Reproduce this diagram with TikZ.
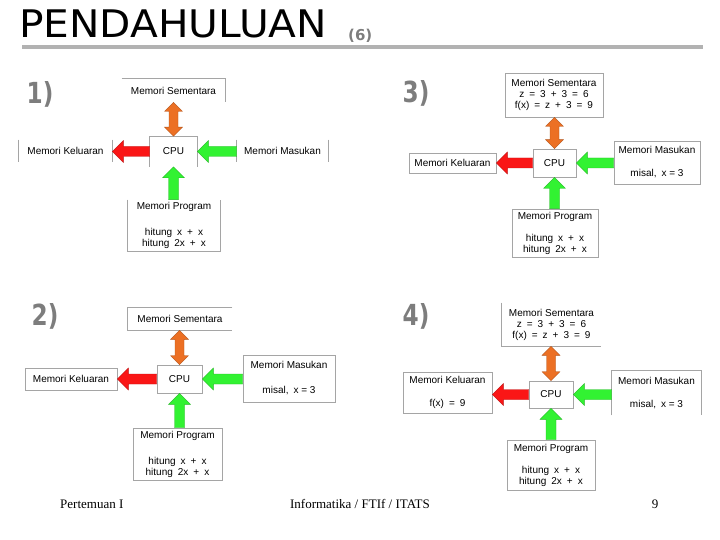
\documentclass[tikz,border=0pt]{standalone}
\usepackage{fontspec}
\setmainfont{Liberation Serif}
\newfontfamily\kotakfont{Liberation Sans}
\newfontfamily\judulfont{DejaVu Sans}
\usetikzlibrary{
    calc,
    positioning,
}
\definecolor{garis}{RGB}{165,165,165}
\definecolor{rule}{RGB}{178,178,178}
\definecolor{nomorgray}{RGB}{125,125,125}
\definecolor{oranye}{RGB}{236,112,36}
\definecolor{merah}{RGB}{250,22,22}
\definecolor{hijau}{RGB}{50,242,50}
\tikzstyle{memori}=[draw=garis,line width=.6pt,rectangle,inner sep=0pt,align=center,font=\kotakfont\fontsize{10}{11}\selectfont]
\tikzstyle{bare}=[memori,draw=none]
\tikzstyle{tepi}=[draw=garis,line width=.6pt]
\tikzstyle{nomor}=[font=\judulfont\bfseries\fontsize{29}{29}\selectfont,text=nomorgray,inner sep=0pt]
\tikzset{
    >=latex
}
\newcommand{\jk}{\enspace}
% single block arrow: colour, tail, tip
\newcommand{\Panah}[3]{%
    \coordinate (pA) at (#2);
    \coordinate (pB) at (#3);
    \coordinate (pN) at ($(pB)!11pt!(pA)$);
    \filldraw[fill=#1,draw=#1!75!black,line width=.4pt]
        ($(pA)!5pt!90:(pB)$) -- ($(pN)!5pt!90:(pB)$) -- ($(pN)!11pt!90:(pB)$) -- (pB)
        -- ($(pN)!11pt!-90:(pB)$) -- ($(pN)!5pt!-90:(pB)$) -- ($(pA)!5pt!-90:(pB)$) -- cycle;
}
% double block arrow: colour, end, end
\newcommand{\PanahDua}[3]{%
    \coordinate (pA) at (#2);
    \coordinate (pB) at (#3);
    \coordinate (pN) at ($(pB)!9pt!(pA)$);
    \coordinate (pM) at ($(pA)!9pt!(pB)$);
    \filldraw[fill=#1,draw=#1!75!black,line width=.4pt]
        (pA) -- ($(pM)!9pt!90:(pB)$) -- ($(pM)!4.5pt!90:(pB)$) -- ($(pN)!4.5pt!90:(pB)$)
        -- ($(pN)!9pt!90:(pB)$) -- (pB) -- ($(pN)!9pt!-90:(pB)$) -- ($(pN)!4.5pt!-90:(pB)$)
        -- ($(pM)!4.5pt!-90:(pB)$) -- ($(pM)!9pt!-90:(pB)$) -- cycle;
}

\begin{document}
\begin{tikzpicture}[x=1pt,y=-1pt]
    \useasboundingbox (0,0) rectangle (720,540);
    % Title
    \node[anchor=base west,inner sep=0pt,font=\judulfont\fontsize{38}{38}\selectfont] (judul) at (19,38) {\scalebox{1.07}[1]{PENDAHULUAN}};
    \node[anchor=base west,inner sep=0pt,font=\judulfont\bfseries\fontsize{15}{15}\selectfont,text=nomorgray] (bagian) at (348,41) {(6)};
    \coordinate (rule west) at (22,47.5);
    \coordinate (rule east) at (703,47.5);
    \draw[rule,line width=4pt] (rule west) -- (rule east);

    \node[nomor] (n1) at (40,94) {\scalebox{.8}[1]{1)}};
    \node[nomor] (n2) at (45,316) {\scalebox{.8}[1]{2)}};
    \node[nomor] (n3) at (416,93) {\scalebox{.8}[1]{3)}};
    \node[nomor] (n4) at (416,316) {\scalebox{.8}[1]{4)}};

    % 1)
    \node[bare,minimum width=103pt,minimum height=23pt] (ms1) at (173.5,90.5) {Memori Sementara};
    \node[bare,minimum width=47pt,minimum height=30pt] (cpu1) at (173.5,151.5) {CPU};
    \node[bare,minimum width=93pt,minimum height=22pt] (mk1) at (65.5,151) {Memori Keluaran};
    \node[bare,minimum width=91pt,minimum height=22pt] (mm1) at (282.5,151) {Memori Masukan};
    \node[bare,minimum width=92pt,minimum height=51pt] (mp1) at (174,225.5)
        {Memori Program\\[15pt] hitung\jk x\jk+\jk x\\ hitung\jk 2x\jk+\jk x};
    \draw[tepi] (ms1.north west) -- (ms1.north east) -- (ms1.south east);
    \draw[tepi] (cpu1.south west) -- (cpu1.north west) -- (cpu1.north east) -- (cpu1.south east);
    \draw[tepi] (mk1.north west) -- (mk1.south west) (mk1.north east) -- (mk1.south east);
    \draw[tepi] (mm1.north west) -- (mm1.south west) (mm1.north east) -- (mm1.south east);
    \draw[tepi] (mp1.north west) -- (mp1.south west) -- (mp1.south east) -- (mp1.north east);
    \PanahDua{oranye}{ms1.south -| cpu1.north}{cpu1.north}
    \Panah{merah}{cpu1.west}{mk1.east |- cpu1.west}
    \Panah{hijau}{mm1.west |- cpu1.east}{cpu1.east}
    \Panah{hijau}{mp1.north -| cpu1.south}{cpu1.south}

    % 2)
    \node[bare,minimum width=104pt,minimum height=22pt] (ms2) at (180,319) {Memori Sementara};
    \node[memori,minimum width=45pt,minimum height=28pt] (cpu2) at (179.5,379) {CPU};
    \node[memori,minimum width=92pt,minimum height=22pt] (mk2) at (71,379) {Memori Keluaran};
    \node[memori,minimum width=92pt,minimum height=47pt] (mm2) at (289,378.5)
        {Memori Masukan\\[14pt] misal,\jk x = 3};
    \node[memori,minimum width=89pt,minimum height=52pt] (mp2) at (177.5,454)
        {Memori Program\\[15pt] hitung\jk x\jk+\jk x\\ hitung\jk 2x\jk+\jk x};
    \draw[tepi] (ms2.north east) -- (ms2.north west) -- (ms2.south west) -- (ms2.south east);
    \PanahDua{oranye}{ms2.south -| cpu2.north}{cpu2.north}
    \Panah{merah}{cpu2.west}{mk2.east |- cpu2.west}
    \Panah{hijau}{mm2.west |- cpu2.east}{cpu2.east}
    \Panah{hijau}{mp2.north -| cpu2.south}{cpu2.south}

    % 3)
    \node[memori,minimum width=98pt,minimum height=44pt] (ms3) at (554,95)
        {Memori Sementara\\ z\jk=\jk3\jk+\jk3\jk=\jk6\\ f(x)\jk=\jk z\jk+\jk3\jk=\jk9};
    \node[memori,minimum width=43pt,minimum height=28pt] (cpu3) at (554.5,163) {CPU};
    \node[memori,minimum width=87pt,minimum height=20pt] (mk3) at (452.5,163) {Memori Keluaran};
    \node[memori,minimum width=86pt,minimum height=43pt] (mm3) at (657,162.5)
        {Memori Masukan\\[12pt] misal,\jk x = 3};
    \node[memori,minimum width=86pt,minimum height=48pt] (mp3) at (555,233)
        {Memori Program\\[11pt] hitung\jk x\jk+\jk x\\ hitung\jk 2x\jk+\jk x};
    \PanahDua{oranye}{ms3.south -| cpu3.north}{cpu3.north}
    \Panah{merah}{cpu3.west}{mk3.east |- cpu3.west}
    \Panah{hijau}{mm3.west |- cpu3.east}{cpu3.east}
    \Panah{hijau}{mp3.north -| cpu3.south}{cpu3.south}

    % 4)
    \node[bare,minimum width=99pt,minimum height=43pt] (ms4) at (551.5,324.5)
        {Memori Sementara\\ z\jk=\jk3\jk+\jk3\jk=\jk6\\ f(x)\jk=\jk z\jk+\jk3\jk=\jk9};
    \node[memori,minimum width=44pt,minimum height=27pt] (cpu4) at (551,394.5) {CPU};
    \node[memori,minimum width=89pt,minimum height=41pt] (mk4) at (447.5,392.5)
        {Memori Keluaran\\[12pt] f(x)\jk=\jk9};
    \node[bare,minimum width=89pt,minimum height=44pt] (mm4) at (656.5,393)
        {Memori Masukan\\[12pt] misal,\jk x = 3};
    \node[memori,minimum width=88pt,minimum height=50pt] (mp4) at (551,465)
        {Memori Program\\[11pt] hitung\jk x\jk+\jk x\\ hitung\jk 2x\jk+\jk x};
    \draw[tepi] (ms4.north west) -- (ms4.south west) -- (ms4.south east);
    \draw[tepi] (mm4.south west) -- (mm4.north west) -- (mm4.north east) -- (mm4.south east);
    \PanahDua{oranye}{ms4.south -| cpu4.north}{cpu4.north}
    \Panah{merah}{cpu4.west}{mk4.east |- cpu4.west}
    \Panah{hijau}{mm4.west |- cpu4.east}{cpu4.east}
    \Panah{hijau}{mp4.north -| cpu4.south}{cpu4.south}

    % Footer
    \node[anchor=base west,inner sep=0pt,font=\fontsize{13}{13}\selectfont] (pertemuan) at (60,508) {Pertemuan I};
    \node[anchor=base,inner sep=0pt,font=\fontsize{13}{13}\selectfont] (instansi) at (360,508) {Informatika / FTIf / ITATS};
    \node[anchor=base,inner sep=0pt,font=\fontsize{13}{13}\selectfont] (halaman) at (655,508) {9};
\end{tikzpicture}
\end{document}
